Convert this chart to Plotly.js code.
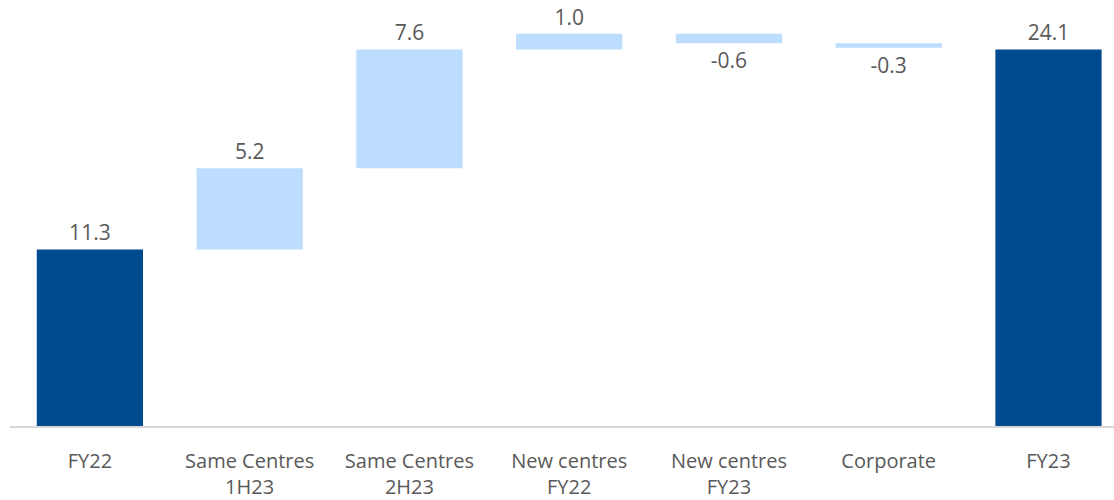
<!DOCTYPE html>
<html>
<head>
<meta charset="utf-8">
<script src="https://cdn.plot.ly/plotly-3.0.1.min.js"></script>
<style>html,body{margin:0;padding:0;background:#fff;}#chart{width:1114px;height:500px;}</style>
</head>
<body>
<div id="chart"></div>
<script>
const categories = ["FY22", "Same Centres<br>1H23", "Same Centres<br>2H23", "New centres<br>FY22", "New centres<br>FY23", "Corporate", "FY23"];
const measures = ["absolute", "relative", "relative", "relative", "relative", "relative", "absolute"];
const values = [11.3, 5.2, 7.6, 1.0, -0.6, -0.3, 24.1];
const labels = ["11.3", "5.2", "7.6", "1.0", "-0.6", "-0.3", "24.1"];

const trace = {
  type: "waterfall",
  x: categories,
  y: values,
  measure: measures,
  text: labels,
  textinfo: "text",
  textposition: "outside",
  cliponaxis: false,
  width: 0.665,
  textfont: {family: "Open Sans, Noto Sans, sans-serif", size: 21, color: "#595959"},
  connector: {visible: false},
  increasing: {marker: {color: "#BDDDFE"}},
  decreasing: {marker: {color: "#BDDDFE"}},
  totals: {marker: {color: "#004B8F"}},
  hoverinfo: "none"
};

const layout = {
  width: 1114,
  height: 500,
  margin: {l: 10, r: 0, t: 0, b: 74},
  paper_bgcolor: "#ffffff",
  plot_bgcolor: "#ffffff",
  showlegend: false,
  xaxis: {
    type: "category",
    range: [-0.5, 6.41],
    showline: true,
    linecolor: "#D9D9D9",
    linewidth: 1.5,
    ticks: "",
    showgrid: false,
    zeroline: false,
    tickfont: {family: "Open Sans, Noto Sans, sans-serif", size: 20, color: "#595959"},
    ticklabelstandoff: 16
  },
  yaxis: {
    range: [0, 27.26],
    visible: false,
    showgrid: false,
    zeroline: false
  }
};

Plotly.newPlot("chart", [trace], layout, {displayModeBar: false, staticPlot: true});
</script>
</body>
</html>
